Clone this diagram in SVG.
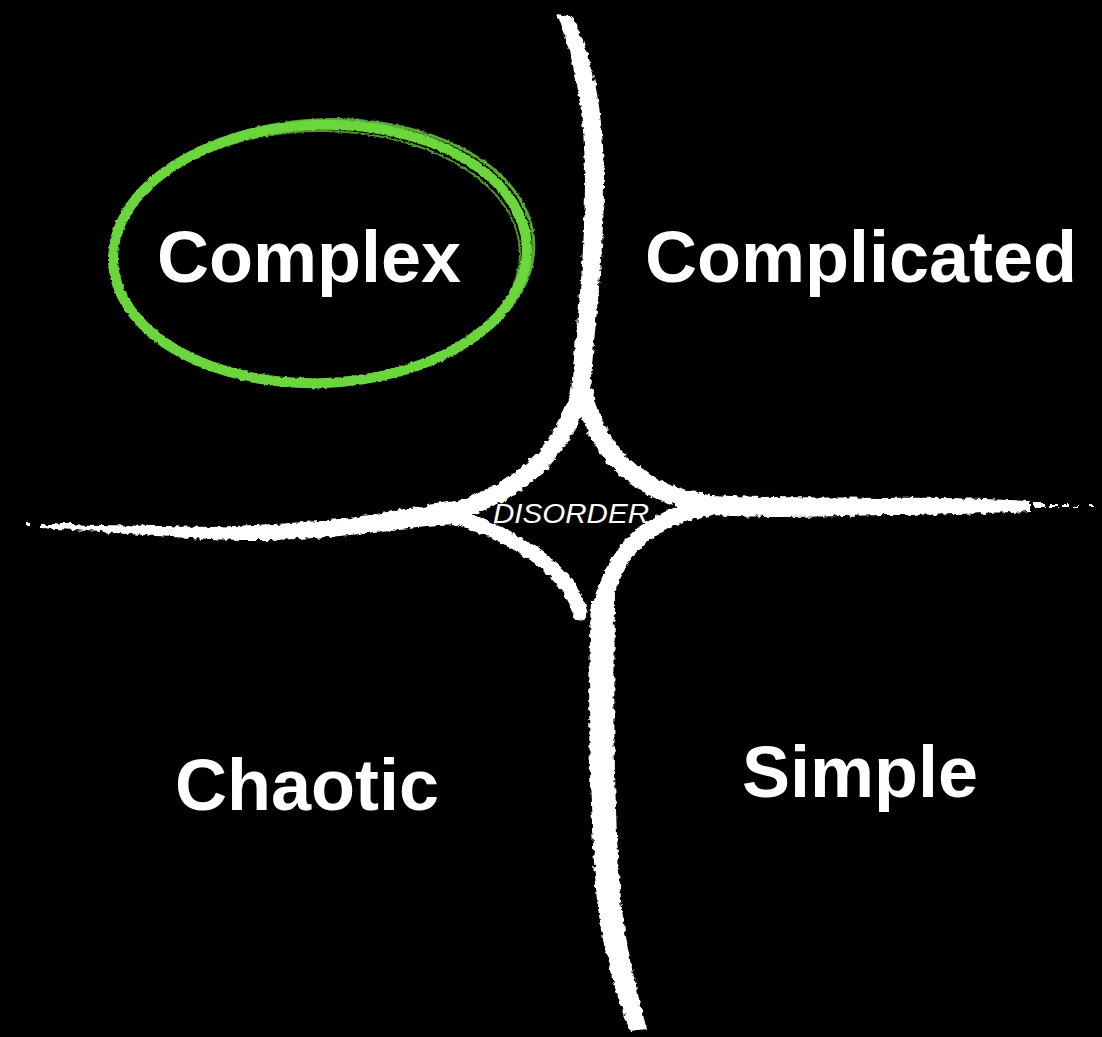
<svg xmlns="http://www.w3.org/2000/svg" width="1102" height="1037" viewBox="0 0 1102 1037">
  <defs>
    <filter id="rough" filterUnits="userSpaceOnUse" x="0" y="0" width="1102" height="1037">
      <feTurbulence type="fractalNoise" baseFrequency="0.18" numOctaves="2" seed="4" result="n"/>
      <feDisplacementMap in="SourceGraphic" in2="n" scale="6" xChannelSelector="R" yChannelSelector="G"/>
    </filter>
    <filter id="roughG" filterUnits="userSpaceOnUse" x="0" y="0" width="1102" height="1037">
      <feTurbulence type="fractalNoise" baseFrequency="0.25" numOctaves="2" seed="9" result="n"/>
      <feDisplacementMap in="SourceGraphic" in2="n" scale="3" xChannelSelector="R" yChannelSelector="G"/>
    </filter>
    <style>
      .chalk { fill: #ffffff; stroke: none; }
      .chalkS { fill: none; stroke: #ffffff; stroke-linecap: round; }
      .label { font-family: "Liberation Sans", Arial, Helvetica, sans-serif; font-weight: bold; font-size: 72px; fill: #ffffff; text-anchor: middle; }
      .small { font-family: "Liberation Sans", Arial, Helvetica, sans-serif; font-style: italic; font-size: 27px; fill: #ffffff; text-anchor: middle; }
      .ring { fill: none; stroke: #6cd63e; }
    </style>
  </defs>
  <rect x="0" y="0" width="1102" height="1037" fill="#000000"/>

  <g id="connectors" filter="url(#rough)">
    <!-- top vertical boundary -->
    <path class="chalk" d="M557,14 C575,60 585,112 585,180 C585,262 576,330 571,392 L590,392 C594,330 604,262 604,180 C604,110 592,52 572,16 Z"/>
    <!-- astroid arcs -->
    <path class="chalkS" stroke-width="18" d="M580,392 Q555,482 452,512"/>
    <path class="chalkS" stroke-width="18" d="M584,392 Q605,490 715,505"/>
    <path class="chalkS" stroke-width="15" d="M452,515 Q563,553 580,612"/>
    <path class="chalkS" stroke-width="17" d="M715,506 Q620,520 603,605"/>
    <!-- bottom vertical boundary -->
    <path class="chalk" d="M591,600 C588,700 588,800 597,900 C604,960 618,1000 631,1032 L647,1030 C638,995 626,950 621,900 C613,800 614,700 615,600 Z"/>
    <!-- left horizontal boundary -->
    <path class="chalk" d="M455,501 C420,506 390,512 350,518 C300,523 260,525 210,527 C160,526 110,525 40,524 L40,528 C110,532 160,537 210,539 C260,541 300,540 350,535 C390,530 420,526 455,524 Z"/>
    <!-- right horizontal boundary -->
    <path class="chalk" d="M712,495 C760,498 820,497 880,498 C940,497 990,499 1030,501 L1030,511 C990,513 940,515 880,515 C820,517 760,518 712,515 Z"/>
    <!-- scattered chalk fragments -->
    <g fill="#ffffff">
      <rect x="26" y="523" width="3" height="2"/>
      <rect x="50" y="524" width="6" height="2"/>
      <rect x="60" y="523" width="14" height="2"/>
      <rect x="84" y="528" width="6" height="3"/>
      <rect x="108" y="527" width="10" height="3"/>
      <rect x="128" y="529" width="12" height="4"/>
      <rect x="146" y="530" width="20" height="4"/>
      <rect x="172" y="530" width="14" height="5"/>
      <rect x="1034" y="503" width="12" height="4"/>
      <rect x="1050" y="504" width="8" height="3"/>
      <rect x="1062" y="505" width="6" height="2"/>
      <rect x="1072" y="506" width="6" height="2"/>
      <rect x="1090" y="505" width="3" height="2"/>
    </g>
  </g>

  <g id="complex-ring" filter="url(#roughG)">
    <ellipse class="ring" cx="320" cy="254" rx="207" ry="129" stroke-width="10" transform="rotate(-2 320 254)"/>
    <ellipse class="ring" cx="322" cy="253" rx="212" ry="133" stroke-width="3" transform="rotate(-3 320 254)" opacity="0.8"/>
    <ellipse class="ring" cx="318" cy="256" rx="202" ry="125" stroke-width="2" transform="rotate(-1 320 254)" opacity="0.7"/>
  </g>

  <g id="complex"><text class="label" x="309" y="282">Complex</text></g>
  <g id="complicated"><text class="label" x="861" y="282">Complicated</text></g>
  <g id="chaotic"><text class="label" x="307" y="810">Chaotic</text></g>
  <g id="simple"><text class="label" x="860" y="797">Simple</text></g>
  <g id="disorder"><text class="small" x="571" y="523" textLength="156" lengthAdjust="spacingAndGlyphs">DISORDER</text></g>
</svg>
